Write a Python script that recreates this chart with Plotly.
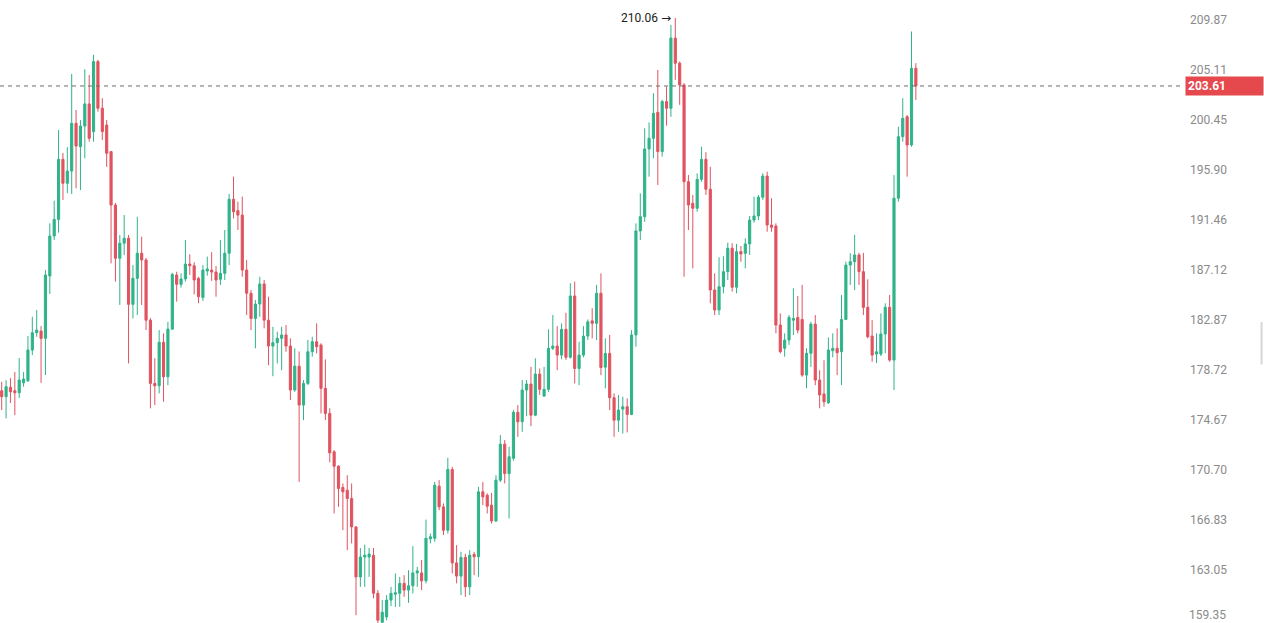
import plotly.graph_objects as go
import math

# OHLC values (one entry per candle, left to right)
opens = [177.04,176.56,177.32,177.04,176.88,177.69,177.85,180.38,181.82,181.96,
         181.35,186.61,190.07,191.52,196.87,194.72,195.81,200.15,198.02,199.90,
         201.94,199.39,205.90,201.54,199.99,197.57,192.79,188.14,189.44,189.87,
         184.20,186.41,188.57,187.99,182.87,177.64,177.45,181.02,178.18,182.12,
         186.70,185.90,186.36,187.64,187.49,186.41,184.77,187.04,187.12,186.95,
         186.33,186.84,188.57,193.30,192.29,191.90,187.12,185.14,183.01,184.23,
         185.93,182.87,180.71,180.99,181.35,181.63,180.71,177.10,179.05,175.88,
         177.64,180.24,181.07,180.80,177.24,175.21,172.15,171.02,169.36,169.15,
         168.51,166.32,162.55,164.04,164.04,164.17,161.33,159.20,159.59,160.83,
         161.27,161.33,162.07,161.57,161.89,162.85,162.85,162.26,165.42,165.45,
         169.46,167.86,166.07,170.76,163.60,162.61,164.01,161.81,164.24,164.06,
         169.02,168.76,167.99,166.78,169.93,172.76,170.44,171.64,175.30,174.54,
         177.10,177.59,175.07,178.40,176.61,177.16,180.52,180.71,179.96,182.10,
         179.78,184.91,178.86,179.96,181.54,182.81,182.60,185.14,178.97,180.10,
         176.48,174.67,175.56,175.75,175.13,181.63,190.51,191.76,197.81,198.78,
         201.16,197.57,202.16,201.54,208.13,205.75,203.71,194.86,192.94,192.50,
         195.07,196.87,194.19,185.42,183.72,185.70,186.98,189.00,185.65,188.71,
         188.57,189.38,191.46,191.82,193.48,195.37,191.03,190.94,182.46,180.52,
         181.21,182.87,183.10,182.93,178.32,180.11,182.54,177.91,176.78,176.07,
         180.33,180.52,180.24,182.93,187.55,187.84,188.42,186.98,183.95,181.54,
         180.05,180.05,181.71,183.95,179.55,193.39,198.93,200.76,198.17,205.27]
highs = [177.77,177.91,178.07,178.58,179.72,178.58,181.54,183.15,183.72,182.37,
         187.12,191.17,193.17,199.54,197.45,197.97,204.74,201.38,200.45,205.18,
         204.64,206.54,206.06,202.47,200.45,197.63,192.97,190.16,191.91,190.16,
         187.55,191.75,190.01,188.16,183.04,179.70,182.04,181.77,182.73,186.89,
         186.98,186.84,189.72,188.48,187.79,186.55,187.55,188.28,188.66,187.47,
         189.72,190.59,193.77,195.31,193.08,193.53,187.99,185.42,184.57,186.55,
         186.27,184.85,182.31,181.90,182.31,182.46,181.35,180.52,180.26,177.91,
         181.21,181.48,182.60,180.94,179.61,175.62,172.29,171.10,169.67,170.31,
         169.67,166.38,164.72,164.97,164.72,164.72,161.57,160.83,161.20,161.81,
         162.81,162.55,162.68,163.05,164.86,163.30,163.82,166.88,165.82,169.79,
         169.93,168.12,171.68,170.97,164.94,164.43,164.28,164.56,164.43,169.41,
         169.79,168.90,168.94,170.31,173.48,173.08,172.55,175.48,175.88,177.91,
         177.91,178.99,179.70,178.86,178.99,182.10,183.30,182.37,182.60,183.49,
         185.99,186.13,181.07,182.37,182.93,183.87,185.85,186.84,181.35,181.63,
         176.83,176.70,176.56,176.43,182.04,191.17,193.83,199.69,200.24,202.94,
         205.11,202.31,203.55,209.39,210.06,205.90,203.87,195.46,193.68,195.61,
         198.02,197.51,196.20,186.84,188.22,188.31,189.49,189.44,189.38,189.20,
         189.87,191.82,193.53,193.68,195.61,195.75,193.39,191.17,183.44,181.77,
         183.30,185.56,184.91,185.85,180.52,182.73,183.30,178.72,179.54,181.43,
         181.77,182.18,184.99,187.84,188.57,190.16,188.62,188.60,186.33,182.87,
         181.77,183.44,184.29,184.99,195.46,199.84,202.47,200.92,208.76,205.75]
lows = [175.48,174.81,176.05,175.07,176.45,177.37,177.77,179.96,181.48,177.69,
        178.32,185.08,189.72,190.36,193.24,193.83,193.77,194.27,194.12,196.97,
        198.47,198.47,201.22,198.63,196.20,187.70,186.13,184.15,188.42,179.28,
        183.01,183.30,184.15,182.04,175.62,175.88,176.83,176.15,177.50,182.04,
        184.43,185.62,186.13,186.70,185.05,184.29,184.49,186.64,186.19,184.85,
        185.85,186.27,187.55,191.61,190.59,186.55,183.30,182.04,180.52,183.15,
        182.18,179.13,178.23,179.28,178.72,180.24,176.29,176.96,169.79,174.67,
        177.50,179.83,180.10,175.21,174.67,171.33,167.35,167.86,166.07,164.56,
        165.07,159.72,161.81,161.81,162.55,160.96,158.98,158.91,159.35,160.39,
        160.33,160.33,161.07,160.63,161.33,161.81,161.57,162.07,165.07,165.19,
        167.60,165.70,165.82,162.81,162.07,161.20,161.07,161.20,162.68,162.55,
        167.99,167.35,166.58,166.70,169.79,169.67,166.96,171.46,173.34,173.74,
        174.99,174.19,174.99,176.70,176.56,176.96,180.38,178.72,179.61,179.57,
        179.68,177.64,177.50,179.78,181.21,181.35,181.21,178.32,177.24,175.48,
        173.34,173.74,173.61,173.69,175.07,180.65,189.72,191.31,195.31,196.97,
        194.57,197.11,199.93,200.75,204.18,201.85,186.55,190.59,187.27,192.20,
        194.86,193.68,184.29,183.30,183.30,185.14,186.27,185.28,185.14,187.84,
        187.27,188.42,191.23,191.46,193.24,190.44,190.44,181.77,180.10,179.83,
        180.80,181.63,181.77,178.18,177.24,178.99,177.50,175.62,175.75,175.97,
        179.78,178.32,177.50,182.87,185.85,185.42,185.85,183.30,181.35,179.41,
        179.30,179.88,180.11,179.41,177.10,193.08,198.47,195.31,198.02,202.31]
closes = [176.56,177.37,176.96,176.88,177.91,177.99,180.38,181.82,182.04,181.35,
          186.69,190.07,191.52,196.87,194.72,195.81,200.15,198.08,199.90,201.94,
          198.78,205.90,201.54,199.39,197.42,192.79,188.14,189.44,189.87,184.20,
          186.41,188.57,187.99,182.87,177.64,177.45,181.02,178.18,182.12,186.75,
          185.90,186.36,187.64,187.49,186.27,184.85,187.12,187.21,186.95,186.27,
          186.84,188.57,193.30,192.20,191.90,187.12,185.14,183.01,184.23,185.93,
          182.87,180.71,180.99,181.35,181.63,180.71,177.10,179.05,175.88,177.64,
          180.24,181.07,180.66,177.24,175.21,172.07,171.02,169.28,169.02,168.51,
          166.32,162.55,164.04,164.17,164.27,161.33,159.35,159.94,160.83,161.33,
          161.37,162.07,161.57,161.89,162.85,163.00,162.26,165.45,165.57,169.54,
          167.86,166.07,170.76,163.60,162.61,164.01,161.81,164.18,164.06,169.02,
          168.63,167.91,166.78,169.93,172.76,170.44,171.76,175.30,174.54,177.10,
          177.59,175.07,178.40,177.16,177.16,180.52,180.71,179.96,182.10,179.78,
          184.91,178.86,179.96,181.54,182.73,182.60,185.14,178.94,180.10,176.48,
          174.67,175.48,175.75,175.13,181.63,190.51,191.76,197.81,198.78,201.07,
          197.57,202.16,201.54,208.13,205.75,203.71,194.86,192.79,192.50,195.07,
          196.87,194.19,185.42,183.72,185.70,186.98,189.00,185.65,188.71,188.51,
          189.38,191.46,191.82,193.48,195.37,191.03,190.83,182.46,180.24,181.21,
          183.10,183.01,182.04,178.32,180.11,182.54,177.91,176.70,176.15,180.38,
          180.52,180.16,182.93,187.55,187.84,188.42,186.98,183.95,181.48,179.96,
          180.24,181.71,183.95,179.55,193.39,198.93,200.61,198.17,205.27,203.61]

y_ticks = [209.87, 205.11, 200.45, 195.90, 191.46, 187.12, 182.87,
           178.72, 174.67, 170.70, 166.83, 163.05, 159.35]
y_tick_text = ["209.87", "205.11", "200.45", "195.90", "191.46", "187.12", "182.87",
               "178.72", "174.67", "170.70", "166.83", "163.05", "159.35"]
last_price = 203.61
max_high = 210.06

x = list(range(len(opens)))
max_idx = highs.index(max(highs))

GREEN = "#2fb38a"
RED = "#e0535f"
TICK_FONT = dict(family="Roboto, Arial, sans-serif", size=12, color="#8a8a8a")

fig = go.Figure()
fig.add_trace(go.Candlestick(
    x=x, open=opens, high=highs, low=lows, close=closes,
    increasing=dict(line=dict(color=GREEN, width=1), fillcolor=GREEN),
    decreasing=dict(line=dict(color=RED, width=1), fillcolor=RED),
    whiskerwidth=0, hoverinfo="skip", showlegend=False,
))

# dashed last-price line (shapes take raw data values on a log axis)
fig.add_shape(type="line", xref="paper", x0=0, x1=1, yref="y",
              y0=last_price, y1=last_price,
              line=dict(color="#6a6a6a", width=1, dash="4px,4px"))

# faint scroll handle at the right edge
fig.add_shape(type="line", xref="paper", yref="paper",
              x0=1.0655, x1=1.0655, y0=0.415, y1=0.483,
              line=dict(color="#d6d6d6", width=2))

fig.add_annotation(xref="paper", x=1, y=math.log10(last_price), yref="y",
                   text="<b>203.61</b>", showarrow=False, xanchor="left",
                   yanchor="middle", bgcolor="#e5484d", borderpad=2,
                   font=dict(family="Roboto, Arial, sans-serif", size=12, color="white"),
                   width=73, align="left", xshift=1)

fig.add_annotation(x=max_idx, y=math.log10(max_high), xref="x", yref="y",
                   text="210.06 <span style='font-family:DejaVu Sans'>→</span>",
                   showarrow=False, xanchor="right",
                   yanchor="middle", xshift=-2,
                   font=dict(family="Roboto, Arial, sans-serif", size=12, color="#222222"))

# lowest tick label sits at the bottom edge: draw it so it stays fully visible
fig.add_annotation(xref="paper", yref="paper", x=1, y=0, xanchor="left",
                   yanchor="bottom", text=y_tick_text[-1], showarrow=False,
                   xshift=3, yshift=-1, font=TICK_FONT)

fig.update_layout(
    width=1264, height=623,
    margin=dict(l=0, r=80, t=0, b=0, autoexpand=False),
    paper_bgcolor="white", plot_bgcolor="white",
    xaxis=dict(range=[-0.39, 270.3], showgrid=False, zeroline=False,
               showticklabels=False, rangeslider=dict(visible=False),
               fixedrange=True, automargin=False),
    yaxis=dict(type="log", side="right",
               range=[math.log10(159.15), math.log10(211.80)],
               tickvals=y_ticks[:-1], ticktext=y_tick_text[:-1],
               showgrid=False, zeroline=False, ticks="",
               ticklabelstandoff=5, fixedrange=True,
               automargin=False, tickfont=TICK_FONT),
)

fig.write_html("out.html", config={"displayModeBar": False},
               post_script="document.body.style.margin='0';document.body.style.overflow='hidden';")
